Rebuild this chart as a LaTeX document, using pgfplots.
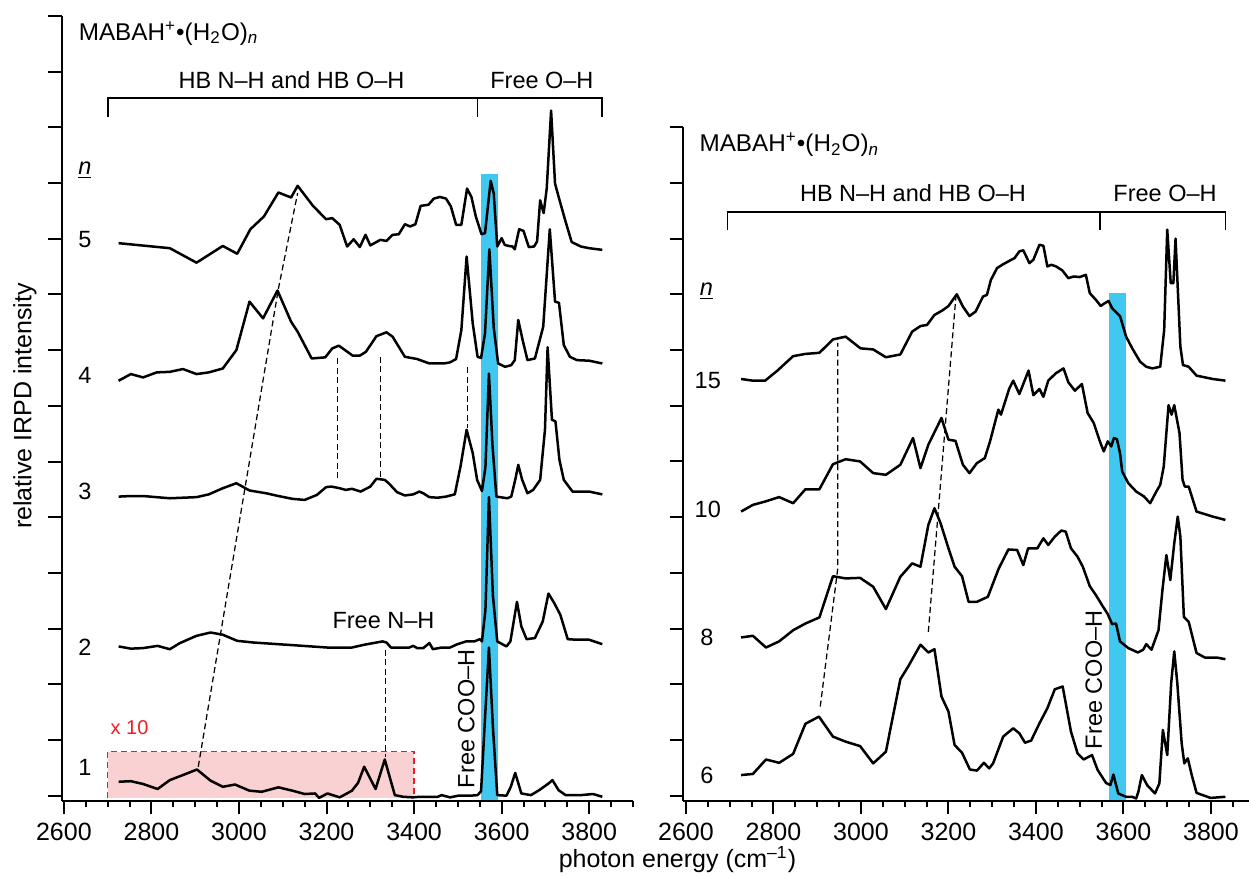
\documentclass[border=0pt]{standalone}
\usepackage{fontspec}
\setmainfont{Liberation Sans}
\usepackage{pgfplots}
\pgfplotsset{compat=1.18}
\definecolor{band}{RGB}{64,200,240}
\definecolor{pinkfill}{RGB}{249,209,211}
\definecolor{boxred}{RGB}{237,28,36}
\begin{document}
\begin{tikzpicture}
\useasboundingbox (0,0) rectangle (499.6pt,350pt);
\pgfplotsset{
  spec/.style={
    scale only axis, clip=false, axis on top,
    axis x line=bottom, axis y line=left,
    axis line style={-, line width=0.8pt, black},
    every tick/.style={black, line width=0.8pt},
    tick align=outside,
    major tick length=5.4pt, minor tick length=2.4pt,
    xtick distance=200,
    ymin=-0.09, yticklabels={}, yticklabel=\empty,
    /pgf/number format/assume math mode=true,
    /pgf/number format/1000 sep={},
    ticklabel style={font=\fontsize{10}{12}\selectfont},
  },
  curve/.style={black, line width=1pt, line join=round, mark=none},
  guide/.style={black, line width=0.5pt, dash pattern=on 2.4pt off 1.4pt},
  brk/.style={black, line width=0.7pt, mark=none},
}
\newcommand{\ann}{\fontsize{9.4}{11}\selectfont}
% ================= LEFT =================
\begin{axis}[spec, at={(24.68pt,29.72pt)}, anchor=south west,
  width=228.5pt, height=313.9pt, xmin=2595, xmax=3900, ymax=14,
  ytick={0,1,...,14},
  minor xtick={2650,2700,2750,2850,2900,2950,3050,3100,3150,3250,3300,3350,3450,3500,3550,3650,3700,3750,3850,3900}]
\addplot[draw=none, fill=band] coordinates {(3552,-0.09) (3552,11.16) (3591,11.16) (3591,-0.09)} -- cycle;
\addplot[draw=none, fill=pinkfill] coordinates {(2700,-0.05) (2700,0.79) (3400,0.79) (3400,-0.05)} -- cycle;
\addplot[boxred, line width=0.6pt, dash pattern=on 2.4pt off 1.6pt] coordinates {(2700,-0.05) (2700,0.79) (3400,0.79) (3400,-0.05)};
% n=5
\addplot[curve] coordinates {(2725,9.92) (2842,9.83) (2903,9.57) (2963,9.87) (2996,9.73) (3026,10.17) (3057,10.40) (3090,10.83) (3119,10.74) (3134,10.95) (3169,10.59) (3199,10.35) (3213,10.37) (3230,10.25) (3247,9.86) (3262,9.99) (3276,9.85) (3289,10.07) (3300,9.88) (3323,9.98) (3337,9.96) (3351,10.07) (3365,10.08) (3379,10.26) (3391,10.22) (3403,10.26) (3415,10.59) (3433,10.61) (3445,10.72) (3459,10.75) (3473,10.72) (3484,10.58) (3496,10.25) (3508,10.25) (3521,10.90) (3531,10.75) (3541,10.40) (3554,10.08) (3562,10.10) (3575,11.04) (3582,10.81) (3590,9.86) (3600,10.01) (3607,9.89) (3616,9.87) (3625,9.86) (3630,9.81) (3640,10.17) (3650,10.14) (3662,9.85) (3674,9.86) (3681,9.95) (3688,10.69) (3696,10.46) (3703,10.90) (3713,12.30) (3722,10.99) (3732,10.70) (3746,10.31) (3760,9.94) (3781,9.86) (3800,9.83) (3830,9.80)};
% n=4
\addplot[curve] coordinates {(2725,7.45) (2753,7.57) (2781,7.51) (2812,7.60) (2842,7.61) (2872,7.66) (2903,7.57) (2931,7.60) (2963,7.67) (2994,8.00) (3024,8.87) (3055,8.57) (3088,9.07) (3119,8.51) (3134,8.33) (3166,7.85) (3197,7.87) (3213,8.03) (3228,8.08) (3260,7.90) (3276,7.90) (3290,7.97) (3314,8.25) (3337,8.32) (3351,8.24) (3379,7.88) (3407,7.84) (3435,7.76) (3468,7.76) (3482,7.78) (3496,7.84) (3508,8.36) (3520,9.68) (3534,8.48) (3545,7.88) (3553,7.86) (3562,8.30) (3572,9.81) (3582,8.40) (3592,7.76) (3608,7.70) (3622,7.73) (3630,7.82) (3638,8.54) (3648,8.18) (3659,7.82) (3676,7.85) (3695,8.42) (3710,10.17) (3722,8.87) (3731,8.85) (3742,8.09) (3756,7.88) (3772,7.82) (3800,7.81) (3830,7.76)};
% n=3
\addplot[curve] coordinates {(2725,5.37) (2753,5.38) (2781,5.38) (2842,5.34) (2903,5.36) (2931,5.41) (2963,5.52) (2994,5.61) (3024,5.48) (3062,5.43) (3090,5.38) (3122,5.33) (3150,5.31) (3178,5.40) (3199,5.54) (3211,5.55) (3230,5.52) (3244,5.49) (3258,5.51) (3278,5.46) (3300,5.55) (3314,5.69) (3333,5.67) (3342,5.61) (3361,5.45) (3379,5.39) (3398,5.41) (3412,5.46) (3421,5.43) (3435,5.36) (3454,5.35) (3473,5.37) (3493,5.41) (3506,5.91) (3520,6.57) (3534,6.15) (3544,5.67) (3555,5.47) (3563,5.90) (3571,7.58) (3579,6.30) (3588,5.37) (3613,5.34) (3622,5.37) (3631,5.67) (3638,5.94) (3647,5.67) (3659,5.43) (3672,5.49) (3688,5.67) (3699,6.57) (3705,8.05) (3715,6.75) (3723,6.72) (3732,6.03) (3742,5.67) (3762,5.46) (3781,5.46) (3800,5.46) (3830,5.41)};
% n=2
\addplot[curve] coordinates {(2725,2.68) (2753,2.64) (2781,2.65) (2814,2.69) (2842,2.63) (2865,2.74) (2903,2.87) (2935,2.93) (2963,2.89) (2996,2.78) (3033,2.75) (3090,2.72) (3146,2.69) (3202,2.66) (3258,2.66) (3286,2.71) (3328,2.77) (3337,2.75) (3347,2.66) (3365,2.66) (3389,2.66) (3398,2.69) (3407,2.65) (3421,2.65) (3435,2.74) (3443,2.63) (3463,2.66) (3482,2.66) (3499,2.72) (3519,2.77) (3538,2.77) (3550,2.81) (3555,2.77) (3563,3.33) (3571,5.36) (3580,3.60) (3590,2.77) (3611,2.68) (3620,2.77) (3635,3.48) (3645,3.04) (3657,2.81) (3676,2.83) (3694,3.13) (3707,3.63) (3720,3.46) (3734,3.25) (3751,2.81) (3772,2.80) (3800,2.80) (3830,2.72)};
% n=1
\addplot[curve] coordinates {(2725,0.25) (2753,0.26) (2781,0.21) (2814,0.12) (2842,0.28) (2875,0.38) (2904,0.47) (2935,0.27) (2963,0.16) (2991,0.20) (3024,0.09) (3052,0.07) (3090,0.15) (3122,0.09) (3150,0.03) (3174,0.04) (3183,-0.04) (3202,0.04) (3230,-0.03) (3258,0.09) (3272,0.23) (3286,0.52) (3312,0.12) (3333,0.65) (3356,0.01) (3375,-0.02) (3398,-0.03) (3412,-0.02) (3435,-0.02) (3454,-0.02) (3463,0.01) (3482,-0.03) (3501,0.00) (3529,0.00) (3545,0.01) (3553,0.08) (3561,1.24) (3571,2.66) (3580,1.24) (3590,0.01) (3611,0.00) (3621,0.16) (3631,0.41) (3645,0.04) (3667,0.01) (3686,0.10) (3709,0.23) (3716,0.28) (3730,0.10) (3746,0.01) (3781,0.01) (3809,0.03) (3830,-0.02)};
% guides
\addplot[guide] coordinates {(2907,0.52) (3090,9.10) (3134,10.82)};
\addplot[guide] coordinates {(3225,7.85) (3225,5.64)};
\addplot[guide] coordinates {(3323,7.88) (3323,5.73)};
\addplot[guide] coordinates {(3522,7.69) (3522,6.60)};
\addplot[guide] coordinates {(3334,2.62) (3334,0.70)};
% bracket
\addplot[brk] coordinates {(2700,12.19) (2700,12.53) (3830,12.53) (3830,12.19)};
\addplot[brk] coordinates {(3545,12.53) (3545,12.19)};
\node[font=\ann] at (axis cs:3120,12.85) {HB N–H and HB O–H};
\node[font=\ann] at (axis cs:3692,12.85) {Free O–H};
\node[font=\fontsize{9.7}{11}\selectfont, anchor=west, inner sep=0pt] at (axis cs:2633,13.69) {MABAH\textsuperscript{+}•(H\textsubscript{2}O)\textsubscript{\textit{n}}};
\node[font=\ann] at (axis cs:2648,11.23) {\underline{\textit{n}}};
\node[font=\ann] at (axis cs:2648,9.99) {5};
\node[font=\ann] at (axis cs:2648,7.55) {4};
\node[font=\ann] at (axis cs:2648,5.46) {3};
\node[font=\ann] at (axis cs:2648,2.67) {2};
\node[font=\ann] at (axis cs:2648,0.50) {1};
\node[font=\ann] at (axis cs:3330,3.15) {Free N–H};
\node[font=\ann, rotate=90] at (axis cs:3519,1.38) {Free COO–H};
\node[font=\fontsize{8}{10}\selectfont, text=boxred] at (axis cs:2750,1.22) {x 10};
\end{axis}
% ================= RIGHT =================
\begin{axis}[spec, at={(273.32pt,29.72pt)}, anchor=south west,
  width=226.3pt, height=269.4pt, xmin=2594, xmax=3887, ymax=12,
  ytick={0,1,...,12},
  minor xtick={2650,2700,2750,2850,2900,2950,3050,3100,3150,3250,3300,3350,3450,3500,3550,3650,3700,3750,3850}]
\addplot[draw=none, fill=band] coordinates {(3566,-0.09) (3566,9.03) (3606,9.03) (3606,-0.09)} -- cycle;
% n=15
\addplot[curve] coordinates {(2726,7.48) (2753,7.45) (2781,7.45) (2809,7.63) (2845,7.89) (2873,7.93) (2905,7.95) (2936,8.19) (2965,8.24) (2999,8.03) (3028,8.01) (3057,7.87) (3090,7.92) (3117,8.33) (3136,8.43) (3151,8.45) (3168,8.63) (3186,8.71) (3200,8.79) (3219,9.00) (3233,8.78) (3248,8.61) (3262,8.69) (3279,8.96) (3288,8.99) (3297,9.26) (3311,9.47) (3325,9.54) (3339,9.60) (3351,9.65) (3362,9.77) (3371,9.79) (3385,9.56) (3394,9.62) (3408,9.89) (3417,9.87) (3426,9.50) (3435,9.53) (3446,9.50) (3460,9.43) (3474,9.29) (3486,9.32) (3500,9.31) (3514,9.35) (3523,9.02) (3537,8.90) (3548,8.79) (3555,8.83) (3566,8.88) (3574,8.75) (3592,8.61) (3606,8.24) (3620,8.03) (3638,7.79) (3652,7.70) (3666,7.67) (3684,7.70) (3693,8.36) (3700,10.16) (3708,9.20) (3714,9.20) (3719,10.00) (3730,8.06) (3736,7.73) (3749,7.70) (3767,7.54) (3804,7.48) (3833,7.45)};
% n=10
\addplot[curve] coordinates {(2726,5.10) (2753,5.22) (2781,5.28) (2813,5.36) (2845,5.25) (2873,5.50) (2905,5.50) (2936,5.95) (2965,6.04) (2998,6.00) (3028,5.79) (3057,5.76) (3090,5.94) (3119,6.42) (3136,5.88) (3154,6.30) (3184,6.78) (3200,6.39) (3216,6.37) (3233,5.94) (3248,5.79) (3265,5.97) (3283,6.06) (3295,6.36) (3314,6.93) (3320,6.84) (3339,7.31) (3348,7.45) (3362,7.21) (3383,7.63) (3394,7.19) (3408,7.30) (3417,7.16) (3428,7.45) (3445,7.58) (3463,7.67) (3474,7.42) (3489,7.27) (3505,7.39) (3518,6.87) (3532,6.69) (3546,6.36) (3555,6.18) (3564,6.36) (3572,6.27) (3578,6.42) (3585,6.40) (3592,6.15) (3597,5.82) (3611,5.61) (3629,5.46) (3647,5.37) (3661,5.25) (3675,5.46) (3684,5.58) (3692,5.91) (3703,7.01) (3710,6.84) (3716,7.01) (3728,6.51) (3735,5.67) (3740,5.55) (3749,5.55) (3767,5.10) (3804,5.01) (3833,4.95)};
% n=8
\addplot[curve] coordinates {(2726,2.84) (2753,2.87) (2783,2.66) (2813,2.77) (2845,2.97) (2873,3.09) (2905,3.20) (2936,3.94) (2965,3.90) (2998,3.91) (3028,3.75) (3057,3.35) (3090,3.93) (3117,4.17) (3136,4.11) (3154,4.86) (3168,5.16) (3182,4.89) (3200,4.44) (3214,4.11) (3231,3.94) (3246,3.48) (3265,3.48) (3290,3.57) (3315,4.08) (3337,4.42) (3357,4.41) (3371,4.14) (3382,4.44) (3403,4.44) (3417,4.62) (3428,4.50) (3443,4.65) (3458,4.76) (3468,4.74) (3480,4.44) (3495,4.29) (3507,4.11) (3523,3.76) (3537,3.60) (3551,3.42) (3564,3.26) (3574,3.08) (3583,3.09) (3592,2.77) (3611,2.65) (3633,2.57) (3645,2.62) (3652,2.72) (3664,2.62) (3680,2.97) (3689,3.69) (3698,4.32) (3707,3.87) (3716,4.53) (3724,5.01) (3730,4.65) (3738,3.21) (3749,3.12) (3767,2.56) (3786,2.48) (3813,2.48) (3833,2.45)};
% n=6
\addplot[curve] coordinates {(2726,0.37) (2753,0.39) (2783,0.65) (2813,0.59) (2845,0.75) (2873,1.29) (2904,1.42) (2936,1.06) (2965,0.97) (2998,0.89) (3028,0.58) (3057,0.79) (3090,2.09) (3108,2.32) (3136,2.71) (3154,2.57) (3168,2.63) (3184,1.78) (3200,1.51) (3214,0.91) (3231,0.77) (3249,0.47) (3265,0.45) (3281,0.59) (3293,0.49) (3302,0.58) (3325,1.06) (3348,1.21) (3362,1.12) (3375,0.95) (3389,0.99) (3408,1.30) (3426,1.57) (3443,1.91) (3461,1.96) (3480,1.15) (3495,0.76) (3509,0.65) (3528,0.73) (3541,0.46) (3560,0.23) (3570,0.19) (3577,0.38) (3588,0.04) (3606,-0.02) (3620,-0.02) (3629,-0.05) (3634,0.07) (3642,0.37) (3654,0.19) (3672,0.04) (3682,0.22) (3690,1.18) (3700,0.73) (3709,2.02) (3716,2.59) (3723,2.02) (3733,0.94) (3739,0.58) (3747,0.67) (3756,0.37) (3767,0.05) (3799,-0.04) (3833,-0.02)};
% guides
\addplot[guide] coordinates {(2907,1.60) (2947,4.08) (2947,8.13)};
\addplot[guide] coordinates {(3154,2.94) (3217,8.96)};
% bracket
\addplot[brk] coordinates {(2695,10.16) (2695,10.48) (3833,10.48) (3833,10.16)};
\addplot[brk] coordinates {(3546,10.48) (3546,10.16)};
\node[font=\ann] at (axis cs:3119,10.82) {HB N–H and HB O–H};
\node[font=\ann] at (axis cs:3695,10.82) {Free O–H};
\node[font=\fontsize{9.7}{11}\selectfont, anchor=west, inner sep=0pt] at (axis cs:2630,11.68) {MABAH\textsuperscript{+}•(H\textsubscript{2}O)\textsubscript{\textit{n}}};
\node[font=\ann] at (axis cs:2647,9.05) {\underline{\textit{n}}};
\node[font=\ann] at (axis cs:2650,7.46) {15};
\node[font=\ann] at (axis cs:2650,5.13) {10};
\node[font=\ann] at (axis cs:2648,2.85) {8};
\node[font=\ann] at (axis cs:2648,0.37) {6};
\node[font=\ann, rotate=90] at (axis cs:3532,2.08) {Free COO–H};
\end{axis}
\node[font=\fontsize{10}{12}\selectfont, rotate=90] at (10pt,187.6pt) {relative IRPD intensity};
\node[font=\fontsize{10}{12}\selectfont] at (271pt,6pt) {photon energy (cm\textsuperscript{–1})};
\end{tikzpicture}
\end{document}
